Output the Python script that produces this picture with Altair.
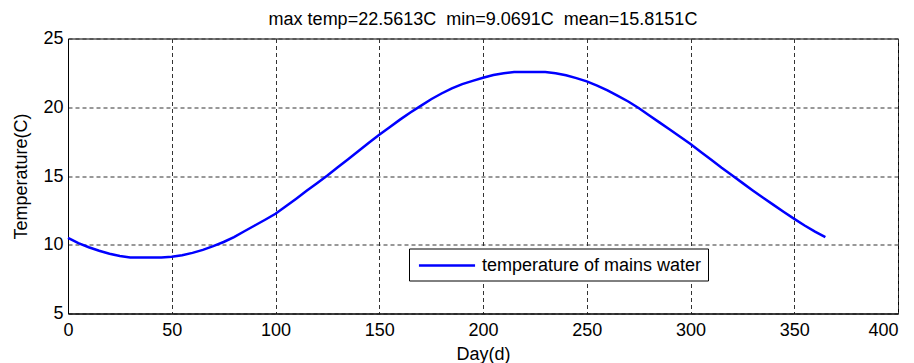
import altair as alt
import pandas as pd

title_text = "max temp=22.5613C \u00a0min=9.0691C \u00a0mean=15.8151C"
series_name = "temperature of mains water"
x_ticks = [0, 50, 100, 150, 200, 250, 300, 350, 400]
y_ticks = [5, 10, 15, 20, 25]

days = list(range(0, 366, 5))
temps = [
    10.50, 10.12, 9.82, 9.56, 9.35, 9.18, 9.08, 9.07, 9.07, 9.07,
    9.12, 9.24, 9.41, 9.63, 9.90, 10.20, 10.56, 10.98, 11.40, 11.82,
    12.25, 12.80, 13.35, 13.92, 14.48, 15.03, 15.63, 16.22, 16.82, 17.42,
    18.00, 18.55, 19.10, 19.62, 20.10, 20.58, 21.00, 21.38, 21.68, 21.92,
    22.15, 22.35, 22.48, 22.56, 22.56, 22.56, 22.56, 22.48, 22.33, 22.12,
    21.88, 21.58, 21.22, 20.83, 20.42, 19.95, 19.42, 18.90, 18.38, 17.85,
    17.32, 16.75, 16.18, 15.60, 15.05, 14.50, 13.95, 13.42, 12.90, 12.38,
    11.88, 11.40, 10.95, 10.55,
]

df = pd.DataFrame({"day": days, "temp": temps, "series": [series_name] * len(days)})

FONT = "Liberation Sans"
FS = 18

line = alt.Chart(df).mark_line(strokeWidth=2.5).encode(
    x=alt.X(
        "day:Q",
        scale=alt.Scale(domain=[0, 400], nice=False, zero=False),
        axis=alt.Axis(
            title="Day(d)",
            values=x_ticks,
            labelPadding=8,
            titlePadding=6,
            labelFlush=False,
            labelAlign=alt.condition("datum.value == 400", alt.value("right"), alt.value("center")),
        ),
    ),
    y=alt.Y(
        "temp:Q",
        scale=alt.Scale(domain=[5, 25], nice=False, zero=False),
        axis=alt.Axis(title="Temperature(C)", values=y_ticks, labelPadding=5, titlePadding=12, labelFlush=False),
    ),
    color=alt.Color(
        "series:N",
        scale=alt.Scale(domain=[series_name], range=["#0000ff"]),
        legend=alt.Legend(
            title=None,
            orient="none",
            legendX=341,
            legendY=210,
            direction="vertical",
            fillColor="white",
            strokeColor="black",
            padding=6,
            cornerRadius=0,
            symbolType="M-3,0H3",
            symbolSize=350,
            symbolStrokeWidth=2.5,
            symbolOffset=21,
            labelFont=FONT,
            labelFontSize=FS,
            labelColor="black",
            labelOffset=24,
            labelLimit=400,
        ),
    ),
)

chart = (
    line.properties(
        width=830,
        height=275,
        background="white",
        title=alt.TitleParams(
            text=title_text,
            font=FONT,
            fontSize=FS,
            fontWeight="normal",
            color="black",
            baseline="alphabetic",
            offset=5,
            dy=18,
        ),
        autosize=alt.AutoSizeParams(type="none"),
        padding={"left": 60, "top": 30.5, "right": 8, "bottom": 56},
    )
    .configure_view(stroke="black", strokeWidth=1)
    .configure_axis(
        grid=True,
        gridDash=[4, 3],
        gridColor="#333333",
        gridOpacity=1,
        gridWidth=1,
        domainColor="black",
        domainWidth=1,
        ticks=False,
        tickSize=0,
        labelFont=FONT,
        labelFontSize=FS,
        labelColor="black",
        titleFont=FONT,
        titleFontSize=FS,
        titleFontWeight="normal",
        titleColor="black",
    )
)

chart.save("out.html", embed_options={"renderer": "svg", "actions": False})
